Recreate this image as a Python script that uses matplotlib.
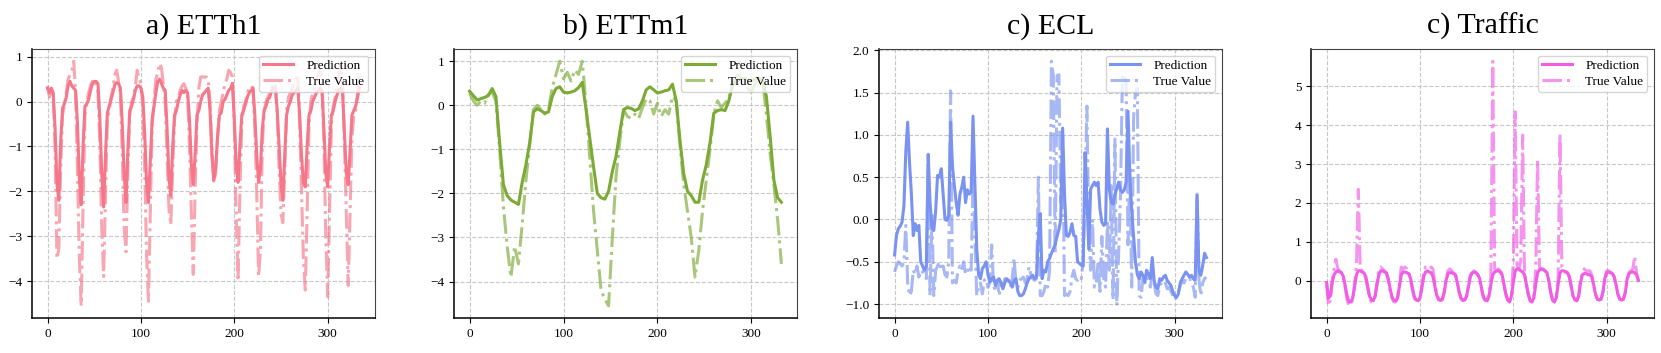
import matplotlib
matplotlib.use("Agg")
import matplotlib.pyplot as plt
import numpy as np

plt.rcParams['font.family'] = ['Liberation Serif', 'DejaVu Serif']

# time index (hourly-ish samples, read every 2 steps; ETTm1 every 4)
x_h = np.arange(0, 336, 2)
x_m = np.arange(0, 336, 4)

etth1_pred = [
    0.30, 0.20, 0.30, 0.20, -0.60, -1.80, -2.20, -0.90, -0.15, -0.05, 0.10, 0.35,
    0.45, 0.35, 0.30, 0.25, -0.50, -1.70, -2.30, -1.00, -0.10, -0.05, 0.05, 0.25,
    0.40, 0.45, 0.45, 0.40, -0.40, -1.60, -2.35, -1.20, -0.25, -0.10, 0.05, 0.20,
    0.38, 0.42, 0.40, 0.30, -0.50, -1.60, -2.25, -1.10, -0.20, -0.10, 0.05, 0.25,
    0.35, 0.35, 0.30, 0.10, -0.70, -1.80, -2.25, -1.30, -0.40, -0.10, 0.20, 0.45,
    0.50, 0.40, 0.30, 0.25, -0.60, -1.70, -2.10, -1.00, -0.30, -0.20, 0.00, 0.15,
    0.25, 0.20, 0.25, 0.20, -0.40, -1.40, -1.85, -1.20, -0.30, -0.20, 0.00, 0.15,
    0.20, 0.25, 0.30, -0.20, -1.20, -1.75, -1.50, -0.80, -0.30, -0.25, 0.00, 0.05,
    0.15, 0.25, 0.30, 0.40, -0.40, -1.40, -1.80, -1.00, -0.30, -0.20, -0.05, 0.10,
    0.20, 0.25, 0.30, -0.30, -1.20, -1.80, -1.50, -0.60, -0.20, -0.10, 0.05, 0.10,
    0.25, 0.30, 0.30, -0.20, -1.00, -1.80, -2.20, -1.20, -0.30, -0.10, 0.00, 0.15,
    0.20, 0.25, 0.30, -0.30, -1.20, -1.80, -1.90, -1.00, -0.30, -0.20, 0.00, 0.10,
    0.20, 0.25, 0.30, 0.20, -0.60, -1.60, -1.90, -1.00, -0.30, -0.20, 0.00, 0.15,
    0.25, 0.30, 0.20, -0.70, -1.60, -1.85, -1.10, -0.30, -0.20, -0.10, 0.10, 0.30,
]
etth1_true = [
    0.35, 0.10, 0.30, 0.15, -1.00, -3.50, -3.30, -1.50, -0.30, -0.10, 0.20, 0.50,
    0.60, 0.70, 0.90, 0.20, -1.50, -3.50, -4.55, -2.30, -0.30, 0.00, 0.20, 0.35,
    0.45, 0.50, 0.35, 0.20, -1.00, -2.80, -3.90, -2.20, -0.40, -0.20, 0.10, 0.30,
    0.60, 0.70, 0.45, 0.20, -1.20, -2.80, -3.35, -1.50, -0.30, 0.00, 0.10, 0.35,
    0.70, 0.50, 0.40, -0.10, -1.50, -3.40, -4.45, -2.50, -0.50, 0.00, 0.50, 0.65,
    0.85, 0.75, 0.40, 0.00, -1.20, -2.40, -2.75, -1.50, -0.40, 0.00, 0.10, 0.25,
    0.35, 0.40, 0.30, 0.10, -1.00, -2.50, -3.85, -2.00, -0.50, 0.30, 0.55, 0.55,
    0.55, 0.55, 0.50, 0.00, -1.00, -1.80, -1.60, -0.80, -0.20, 0.00, 0.20, 0.40,
    0.50, 0.70, 0.65, 0.55, -0.50, -2.50, -4.00, -2.00, -0.50, -0.10, 0.00, 0.20,
    0.30, 0.35, 0.30, -0.60, -2.00, -3.90, -3.30, -1.00, -0.20, 0.00, 0.10, 0.20,
    0.30, 0.40, 0.40, -0.30, -1.50, -2.50, -2.70, -1.60, -0.20, 0.10, 0.20, 0.30,
    0.40, 0.50, 0.60, -0.50, -2.00, -3.50, -4.20, -2.50, -0.50, 0.00, 0.20, 0.30,
    0.50, 0.60, 0.70, 0.50, -1.00, -3.00, -4.35, -2.50, -0.50, -0.10, 0.10, 0.30,
    0.60, 0.80, 0.40, -1.00, -2.50, -4.10, -2.50, -0.80, -0.30, -0.20, 0.20, 0.60,
]

ettm1_pred = [
    0.32, 0.22, 0.12, 0.15, 0.18, 0.22, 0.38, 0.20, -0.85, -1.80, -2.05, -2.15,
    -2.20, -2.25, -1.75, -1.35, -0.85, -0.15, -0.08, -0.12, -0.18, -0.15, 0.20, 0.38,
    0.42, 0.30, 0.28, 0.30, 0.33, 0.40, 0.52, -0.10, -0.75, -1.40, -2.00, -2.10,
    -2.13, -1.95, -1.50, -1.15, -0.60, -0.10, -0.05, -0.07, -0.12, -0.08, 0.10, 0.35,
    0.42, 0.35, 0.28, 0.30, 0.33, 0.35, 0.48, 0.10, -0.80, -1.55, -1.95, -2.05,
    -2.20, -2.20, -1.70, -1.35, -0.85, -0.18, -0.12, -0.10, -0.12, 0.10, 0.45, 0.55,
    0.60, 0.62, 0.58, 0.55, 0.60, 0.62, 0.55, 0.20, -0.70, -1.70, -2.10, -2.20,
]
ettm1_true = [
    0.28, 0.10, 0.00, 0.10, 0.05, 0.25, 0.30, 0.10, -1.00, -2.30, -3.20, -3.90,
    -3.20, -3.60, -2.70, -1.70, -0.90, -0.10, 0.00, -0.10, -0.20, -0.10, 0.40, 0.70,
    1.00, 0.60, 0.75, 0.55, 0.80, 0.70, 1.00, 0.00, -1.20, -2.40, -3.30, -4.20,
    -4.40, -4.55, -3.00, -1.60, -0.80, -0.10, -0.25, -0.30, -0.20, -0.30, -0.05, 0.15,
    0.10, -0.20, 0.05, -0.25, -0.10, -0.20, 0.20, 0.10, -0.90, -1.80, -2.40, -3.00,
    -3.90, -3.30, -2.40, -1.70, -1.00, -0.20, 0.10, -0.05, 0.05, 0.15, 0.50, 0.65,
    0.70, 0.50, 0.40, 0.30, 0.50, 0.60, 0.55, -0.20, -1.10, -1.80, -2.60, -3.60,
]

ecl_pred = [
    -0.42, -0.19, -0.11, -0.08, -0.03, 0.16, 0.80, 1.15, 0.67, 0.30, -0.19, -0.05,
    -0.13, -0.07, -0.50, -0.55, -0.60, -0.55, 0.77, 0.20, -0.10, -0.13, 0.10, 0.52,
    0.50, 0.60, 0.30, 0.00, -0.01, 0.05, 1.15, 0.63, 0.40, 0.20, 0.05, 0.30,
    0.38, 0.50, 0.20, 0.35, 0.30, 0.32, 1.22, 0.45, -0.35, -0.65, -0.70, -0.58,
    -0.55, -0.50, -0.65, -0.74, -0.70, -0.68, -0.78, -0.72, -0.70, -0.75, -0.82, -0.75,
    -0.70, -0.72, -0.75, -0.80, -0.72, -0.70, -0.85, -0.90, -0.90, -0.88, -0.82, -0.75,
    -0.70, -0.68, -0.66, -0.70, -0.68, -0.20, 0.07, -0.70, -0.60, -0.62, -0.50, -0.46,
    -0.40, -0.35, -0.30, -0.20, -0.12, 0.00, 1.08, 0.30, -0.19, -0.20, -0.15, -0.05,
    -0.19, -0.20, -0.50, -0.52, -0.54, -0.55, 0.79, 0.25, -0.35, 0.36, 0.40, 0.44,
    0.40, 0.44, 0.12, -0.03, -0.07, -0.05, 1.07, 0.36, 0.20, 0.18, 0.30, 0.36,
    0.44, 0.35, 0.32, 0.35, 0.44, 1.28, 0.50, 0.10, -0.20, -0.50, -0.65, -0.70,
    -0.62, -0.66, -0.74, -0.60, -0.65, -0.70, -0.45, -0.72, -0.80, -0.82, -0.70, -0.72,
    -0.68, -0.66, -0.72, -0.75, -0.78, -0.85, -0.90, -0.92, -0.88, -0.75, -0.70, -0.66,
    -0.62, -0.65, -0.68, -0.66, -0.70, -0.72, 0.28, -0.62, -0.66, -0.55, -0.40, -0.45,
]
ecl_true = [
    -0.62, -0.55, -0.50, -0.52, -0.55, -0.50, -0.07, -0.75, -0.90, -0.85, -0.60, -0.65,
    -0.55, -0.68, -0.60, -0.62, -0.65, -0.70, 0.65, -0.90, 0.05, -0.90, -0.60, -0.55,
    -0.50, -0.60, -0.55, -0.65, -0.68, -0.50, 1.52, -0.75, -0.72, -0.75, -0.60, -0.55,
    -0.60, -0.50, -0.65, -0.62, -0.55, -0.60, 0.50, -0.20, -0.90, -0.80, -0.75, -0.88,
    -0.72, -0.70, -0.80, -0.75, -0.30, -0.78, -0.85, -0.72, -0.90, -0.75, -0.80, -0.70,
    -0.75, -0.72, -0.80, -0.70, -0.46, -0.75, -0.80, -0.72, -0.70, -0.68, -0.75, -0.70,
    -0.56, -0.65, -0.70, -0.72, -0.70, 0.50, -0.90, -0.90, -0.85, -0.75, -0.80, -0.60,
    1.87, 1.70, -0.40, 1.70, 1.71, 0.20, 1.00, -0.90, -0.88, -0.90, -0.85, -0.68,
    -0.60, -0.70, -0.72, -0.68, -0.70, -0.50, 0.30, 1.34, -0.20, -0.60, 0.00, -0.80,
    -0.75, -0.50, -0.85, -0.20, -0.70, -0.80, 0.00, -0.60, 0.40, -0.95, 0.95, -1.02,
    -0.40, 0.30, 1.71, 1.71, 1.60, -0.30, 0.60, -0.80, 1.20, 1.50, 1.55, -0.90,
    -0.92, -0.70, -0.75, -0.68, -0.72, -0.80, -0.60, -0.75, -0.88, -0.90, -0.78, -0.75,
    -0.72, -0.75, -0.82, -0.80, -0.85, -0.90, -0.95, -0.90, -0.85, -0.78, -0.72, -0.75,
    -0.70, -0.72, -0.70, -0.75, -0.80, -0.92, 0.30, -0.70, -0.90, -0.75, -0.70, -0.68,
]

traffic_pred = [
    -0.05, -0.45, -0.40, -0.05, 0.15, 0.22, 0.25, 0.22, 0.20, 0.10, -0.15, -0.40,
    -0.55, -0.55, -0.45, -0.15, 0.15, 0.25, 0.25, 0.22, 0.20, 0.10, -0.15, -0.40,
    -0.50, -0.52, -0.40, -0.10, 0.15, 0.25, 0.25, 0.22, 0.20, 0.05, -0.20, -0.42,
    -0.50, -0.52, -0.45, -0.15, 0.15, 0.22, 0.22, 0.20, 0.18, 0.05, -0.20, -0.42,
    -0.50, -0.52, -0.45, -0.20, 0.10, 0.22, 0.25, 0.22, 0.20, 0.10, -0.15, -0.38,
    -0.48, -0.50, -0.48, -0.30, 0.00, 0.18, 0.20, 0.20, 0.18, 0.15, -0.05, -0.30,
    -0.45, -0.50, -0.50, -0.40, -0.15, 0.10, 0.20, 0.22, 0.20, 0.15, 0.05, -0.20,
    -0.42, -0.50, -0.52, -0.40, -0.10, 0.15, 0.22, 0.25, 0.25, 0.22, 0.15, -0.10,
    -0.35, -0.50, -0.55, -0.40, -0.05, 0.25, 0.30, 0.30, 0.25, 0.22, 0.15, -0.10,
    -0.35, -0.52, -0.55, -0.45, -0.10, 0.20, 0.28, 0.30, 0.28, 0.25, 0.20, 0.00,
    -0.30, -0.50, -0.55, -0.45, -0.10, 0.20, 0.25, 0.25, 0.22, 0.20, 0.10, -0.15,
    -0.40, -0.50, -0.52, -0.40, -0.05, 0.15, 0.18, 0.18, 0.15, 0.15, 0.10, -0.10,
    -0.35, -0.48, -0.50, -0.48, -0.30, 0.05, 0.20, 0.22, 0.20, 0.18, 0.10, -0.10,
    -0.35, -0.48, -0.50, -0.48, -0.30, 0.05, 0.18, 0.22, 0.22, 0.20, 0.15, 0.00,
]
traffic_true = [
    -0.10, -0.65, -0.50, 0.00, 0.30, 0.55, 0.30, 0.25, 0.20, 0.05, -0.20, -0.50,
    -0.65, -0.60, -0.50, -0.10, 0.40, 2.35, 0.30, 0.25, 0.20, 0.05, -0.20, -0.45,
    -0.55, -0.55, -0.40, -0.05, 0.30, 0.35, 0.30, 0.25, 0.20, 0.00, -0.25, -0.45,
    -0.55, -0.55, -0.45, -0.10, 0.35, 0.30, 0.35, 0.30, 0.20, 0.00, -0.25, -0.45,
    -0.55, -0.55, -0.45, -0.15, 0.20, 0.35, 0.35, 0.30, 0.35, 0.30, -0.10, -0.40,
    -0.50, -0.52, -0.50, -0.30, 0.05, 0.25, 0.30, 0.25, 0.20, 0.15, -0.05, -0.30,
    -0.48, -0.52, -0.50, -0.40, -0.10, 0.15, 0.20, 0.25, 0.20, 0.15, 0.00, -0.25,
    -0.45, -0.52, -0.50, -0.35, 0.10, 5.65, 0.30, 0.25, 0.30, 0.25, 0.15, -0.10,
    -0.35, -0.50, -0.55, -0.35, 0.45, 4.35, 0.40, 0.30, 0.50, 3.75, 0.20, -0.10,
    -0.35, -0.52, -0.55, -0.40, 0.30, 3.10, 0.35, 0.30, 0.30, 0.25, 0.20, 0.00,
    -0.30, -0.50, -0.55, -0.40, 0.00, 3.78, 0.35, 0.30, 0.25, 0.20, 0.10, -0.15,
    -0.40, -0.50, -0.52, -0.40, 0.00, 0.20, 0.30, 0.25, 0.25, 0.25, 0.15, -0.10,
    -0.35, -0.48, -0.50, -0.48, -0.30, 0.05, 0.25, 0.25, 0.22, 0.18, 0.10, -0.10,
    -0.35, -0.48, -0.50, -0.48, -0.30, 0.05, 0.20, 0.25, 0.30, 0.62, 0.20, 0.00,
]

titles = ['a) ETTh1', 'b) ETTm1', 'c) ECL', 'c) Traffic']
colors = ['#F6768A', '#7BAA35', '#7A92F0', '#F15BE6']

panels = [
    (x_h, etth1_pred, etth1_true),
    (x_m, ettm1_pred, ettm1_true),
    (x_h, ecl_pred, ecl_true),
    (x_h, traffic_pred, traffic_true),
]

fig = plt.figure(figsize=(16.61, 3.53), dpi=100)
lefts = [32, 454, 879, 1311]

for i, (x, pred, true) in enumerate(panels):
    ax = fig.add_axes([lefts[i] / 1661, 35 / 353, 343 / 1661, 269 / 353])
    ax.plot(x, pred, color=colors[i], lw=2.2, label='Prediction')
    ax.plot(x, true, color=colors[i], lw=2.2, ls='-.', alpha=0.65, label='True Value')
    ax.set_title(titles[i], fontsize=21.5, pad=11)
    ax.grid(True, ls='--', color='#c8c8c8', lw=0.8)
    ax.tick_params(labelsize=9.5)
    ax.set_xticks([0, 100, 200, 300])
    for s in ['top', 'right']:
        ax.spines[s].set_color('#444444')
    for s in ['left', 'bottom']:
        ax.spines[s].set_linewidth(1.1)
    ax.legend(loc='upper right', fontsize=9.5, labelspacing=0.3, borderpad=0.3,
              handlelength=2.3, handletextpad=1.0)

fig.savefig('out.png', dpi=100)
